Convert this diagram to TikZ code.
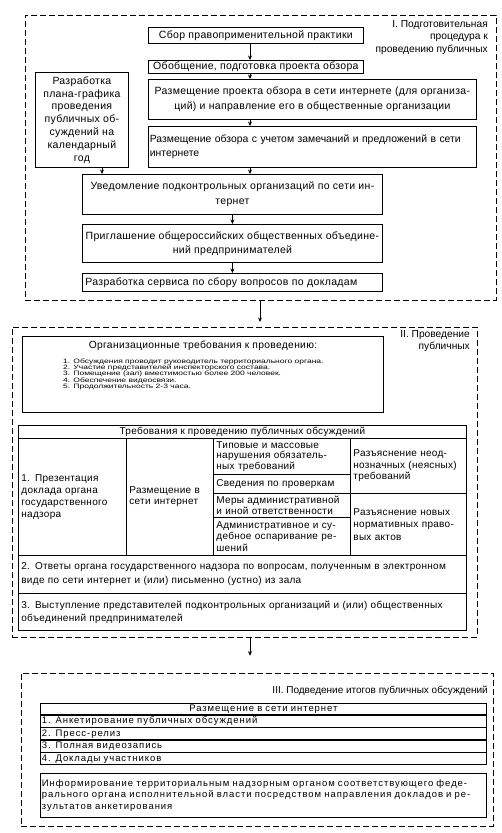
\documentclass[tikz,border=0pt]{standalone}
\usepackage{fontspec}
\setmainfont{Liberation Sans}
\newfontfamily\widefont[FakeStretch=1.35]{Liberation Sans}
\newfontfamily\sI[LetterSpace=3]{Liberation Sans}
\newfontfamily\sII[LetterSpace=3]{Liberation Sans}
\newfontfamily\sIII[LetterSpace=10]{Liberation Sans}
\usetikzlibrary{arrows.meta}
\newcommand\fsz[2]{\fontsize{#1}{#2}\selectfont}
\begin{document}
\begin{tikzpicture}[x=1pt,y=-1pt,
  font=\sI\fsz{10.5}{13},
  box/.style={draw, line width=0.8pt, inner xsep=3pt, inner ysep=1pt, anchor=north west, align=center},
  lbox/.style={box, align=left},
  sec/.style={draw, dash pattern=on 6pt off 3pt, line width=0.7pt, anchor=north west, inner sep=0pt},
  arr/.style={-{Stealth[length=4.5pt,width=4pt]}, line width=0.8pt},
  lbl/.style={anchor=north east, align=right, inner sep=0pt}]
\useasboundingbox (0,0) rectangle (502,833);

% ---------- Section I ----------
\node[sec, minimum width=471pt, minimum height=285pt] (secI) at (25,15) {};
\node[lbl, font=\fsz{10.2}{12.5}] (lblI) at (488,20) {I. Подготовительная\\процедура к\\проведению публичных};

\node[box, minimum width=215pt, minimum height=16pt] (sbor) at (148,27) {Сбор правоприменительной практики};
\node[box, minimum width=215pt, minimum height=13pt, inner ysep=0pt] (obob) at (148,60) {Обобщение, подготовка проекта обзора};
\node[box, minimum width=328pt, minimum height=40pt, font=\sI\fsz{10.5}{15}] (razm1) at (148,79) {Размещение проекта обзора в сети интернете (для организа-\\ций) и направление его в общественные организации};
\node[lbox, minimum width=328pt, minimum height=41pt, text width=325pt, inner xsep=1.5pt, font=\fsz{10.4}{14}] (razm2) at (148,126) {Размещение обзора с учетом замечаний и предложений в сети\\интернете};
\node[box, minimum width=93pt, minimum height=95pt, font=\sI\fsz{10.5}{12.8}, inner xsep=1pt] (plan) at (35,72) {Разработка\\плана-графика\\проведения\\публичных об-\\суждений на\\календарный\\год};
\node[box, minimum width=300pt, minimum height=40pt, font=\sI\fsz{10.5}{15}] (uved) at (82,174) {Уведомление подконтрольных организаций по сети ин-\\тернет};
\node[box, minimum width=300pt, minimum height=38pt, font=\sI\fsz{10.5}{14}] (prig) at (82,224) {Приглашение общероссийских общественных объедине-\\ний предпринимателей};
\node[lbox, minimum width=300pt, minimum height=18pt, text width=294pt] (serv) at (82,273) {Разработка сервиса по сбору вопросов по докладам};

\coordinate (ax1) at (250,0);
\coordinate (ax2) at (102,0);
\coordinate (ax3) at (260,0);
\draw[arr] (sbor.south -| ax1) -- (obob.north -| ax1);
\draw[arr] (obob.south -| ax1) -- (razm1.north -| ax1);
\draw[arr] (razm1.south -| ax1) -- (razm2.north -| ax1);
\draw[arr] (razm2.south -| ax1) -- (uved.north -| ax1);
\draw[arr] (plan.south -| ax2) -- (uved.north -| ax2);
\draw[arr] (uved) -- (prig);
\draw[arr] (prig) -- (serv);

% ---------- Section II ----------
\node[sec, minimum width=465pt, minimum height=310pt] (secII) at (12,327) {};
\node[lbl, font=\fsz{10.2}{12.5}] (lblII) at (470,330) {II. Проведение\\публичных};
\draw[arr] (secI.south -| ax3) -- ([yshift=5pt]secII.north -| ax3);

\node[box, minimum width=361pt, minimum height=76pt] (org) at (22,336) {};
\node[anchor=north, inner sep=0pt, font=\sII\fsz{10.3}{12}] (orgt) at (203,341) {Организационные требования к проведению:};
\node[anchor=north west, inner sep=0pt, align=left, font=\widefont\fsz{6.3}{6.3}] (orgl) at (63,358.5)
 {1. Обсуждения проводит руководитель территориального органа.\\
  2. Участие представителей инспекторского состава.\\
  3. Помещение (зал) вместимостью более 200 человек.\\
  4. Обеспечение видеосвязи.\\
  5. Продолжительность 2-3 часа.};

\tikzset{tII/.style={font=\sII\fsz{10}{#1}}}
\node[box, minimum width=448pt, minimum height=13pt, inner ysep=0pt, tII=12] (th) at (18,425) {Требования к проведению публичных обсуждений};
\node[lbox, minimum width=108pt, minimum height=117pt, text width=102pt, tII=12] (c1) at (18,438) {1. Презентация\\доклада органа\\государственного\\надзора};
\node[lbox, minimum width=87pt, minimum height=117pt, text width=81pt, tII=11] (c2) at (126,438) {Размещение в\\сети интернет};
\node[lbox, minimum width=137pt, minimum height=36pt, text width=131pt, tII=10.5, inner ysep=0pt] (c3a) at (213,438) {Типовые и массовые\\нарушения обязатель-\\ных требований};
\node[lbox, minimum width=137pt, minimum height=19pt, text width=131pt, tII=12] (c3b) at (213,474) {Сведения по проверкам};
\node[lbox, minimum width=137pt, minimum height=24pt, text width=131pt, tII=10.5, inner ysep=0pt] (c3c) at (213,493) {Меры административной\\и иной ответственности};
\node[lbox, minimum width=137pt, minimum height=38pt, text width=131pt, tII=11.5, inner ysep=0pt] (c3d) at (213,517) {Административное и су-\\дебное оспаривание ре-\\шений};
\node[lbox, minimum width=116pt, minimum height=55pt, text width=110pt, tII=11.5] (c4a) at (350,438) {Разъяснение неод-\\нозначных (неясных)\\требований};
\node[lbox, minimum width=116pt, minimum height=62pt, text width=110pt, tII=12.5] (c4b) at (350,493) {Разъяснение новых\\нормативных право-\\вых актов};
\node[lbox, minimum width=448pt, minimum height=38pt, text width=442pt, tII=14] (r2) at (18,555) {2. Ответы органа государственного надзора по вопросам, полученным в электронном\\виде по сети интернет и (или) письменно (устно) из зала};
\node[lbox, minimum width=448pt, minimum height=37pt, text width=442pt, tII=13] (r3) at (18,593) {3. Выступление представителей подконтрольных организаций и (или) общественных\\объединений предпринимателей};

% ---------- Section III ----------
\node[sec, minimum width=472pt, minimum height=153pt] (secIII) at (21,673) {};
\draw[arr] (secII.south -| ax1) -- ([yshift=-18pt]secII.south -| ax1);
\node[lbl, font=\fsz{10}{12}] (lblIII) at (488,686) {III. Подведение итогов публичных обсуждений};

\tikzset{trow/.style={lbox, minimum width=446pt, text width=443pt, inner xsep=1.5pt, inner ysep=1pt, text height=7pt, text depth=2pt, font=\sIII\fsz{9.5}{10}}}
\node[trow, align=center, minimum height=11pt] (t0) at (40,703) {Размещение в сети интернет};
\node[trow, minimum height=11.7pt] (t1) at (40,714.8) {1. Анкетирование публичных обсуждений};
\node[trow, minimum height=11.7pt] (t2) at (40,727.3) {2. Пресс-релиз};
\node[trow, minimum height=11.7pt] (t3) at (40,739.8) {3. Полная видеозапись};
\node[trow, minimum height=11.7pt] (t4) at (40,752.3) {4. Доклады участников};

\node[lbox, minimum width=446pt, minimum height=44pt, text width=443pt, inner xsep=1.5pt, font=\sIII\fsz{9.5}{11.5}] (inf) at (40,773) {Информирование территориальным надзорным органом соответствующего феде-\\рального органа исполнительной власти посредством направления докладов и ре-\\зультатов анкетирования};
\end{tikzpicture}
\end{document}
